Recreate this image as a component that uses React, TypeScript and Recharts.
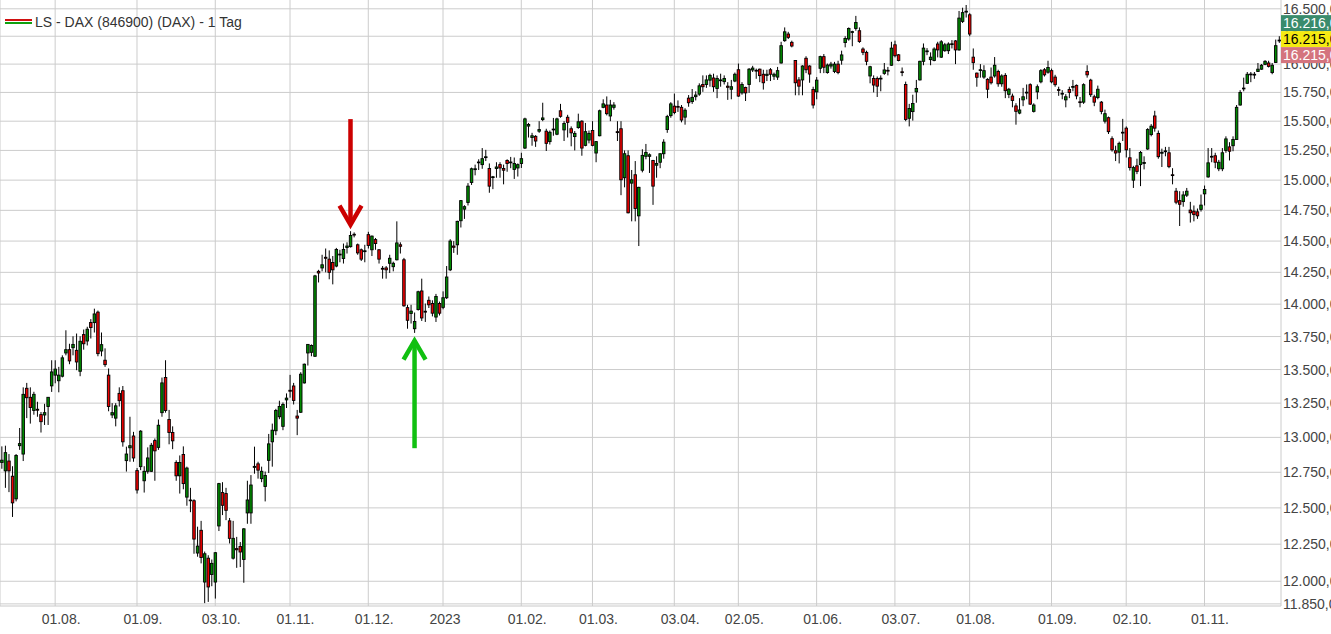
import React from 'react';
import { ComposedChart, Bar, XAxis, YAxis, CartesianGrid, ReferenceLine } from 'recharts';

type OHLC = [number, number, number, number];

// Daily candles [open, high, low, close], one array per month (first row = first trading day)
const jul22: OHLC[] = [
  [12820,12935,12775,12836],[12760,12940,12640,12890],[12830,12880,12610,12760],[12722,12793,12437,12535],
  [12563,12880,12545,12870],[12940,13068,12910,12955],[12880,13367,12830,13315],[13360,13400,13140,13290],
  [13293,13367,13100,13218],[13196,13334,13165,13315],[13205,13260,13150,13198],[13166,13185,13035,13114],
  [13163,13245,13090,13180],[13225,13295,13090,13293],[13378,13570,13333,13482],
];
const aug22: OHLC[] = [
  [13458,13570,13397,13503],[13416,13520,13330,13458],[13450,13607,13441,13588],[13625,13798,13607,13650],
  [13650,13695,13540,13565],[13665,13752,13607,13690],[13645,13773,13495,13557],[13487,13752,13450,13714],
  [13765,13804,13650,13695],[13716,13825,13682,13806],[13858,13884,13735,13819],[13857,13965,13781,13924],
  [13938,13950,13600,13620],[13640,13781,13600,13688],[13570,13660,13520,13537],[13458,13508,13190,13225],
  [13163,13250,13140,13180],[13140,13250,13080,13230],[13322,13367,13225,13268],[13342,13377,12933,12968],
  [12833,12933,12755,12880],[12925,13150,12825,12940],[13010,13040,12825,12852],
];
const sep22: OHLC[] = [
  [12762,12780,12600,12625],[12790,13052,12765,13045],[12690,12793,12607,12757],[12757,12928,12740,12852],
  [12757,12960,12752,12943],[12977,12992,12690,12903],[12928,13130,12910,13088],[13180,13440,13150,13400],
  [13440,13570,13180,13196],[13130,13200,12950,13035],[13035,13080,12915,12975],[12820,12835,12690,12725],
  [12725,12870,12600,12820],[12877,12935,12630,12670],[12575,12790,12515,12780],[12555,12640,12470,12550],
  [12550,12560,12185,12285],[12190,12370,12165,12237],[12345,12410,12120,12160],[11995,12200,11855,12185],
  [12155,12175,11863,11962],[12045,12146,11967,12120],
];
const oct22: OHLC[] = [
  [11995,12196,11885,12192],[12375,12675,12340,12670],[12607,12680,12450,12518],[12600,12640,12415,12483],
  [12410,12430,12255,12290],[12155,12410,12146,12290],[12220,12300,12090,12212],[12235,12265,12095,12197],
  [12146,12360,11990,12355],[12465,12690,12390,12555],[12465,12730,12390,12660],[12785,12933,12740,12792],
  [12810,12825,12705,12765],[12705,12790,12680,12757],[12650,12755,12545,12727],[12835,13025,12745,12953],
  [12968,13100,12790,13052],[13048,13208,13016,13196],[13150,13268,13132,13225],[13080,13255,13052,13240],
  [13274,13322,13214,13287],
];
const nov22: OHLC[] = [
  [13345,13460,13290,13338],[13377,13400,13240,13270],[13155,13200,13016,13140],[13183,13480,13178,13465],
  [13400,13545,13395,13540],[13625,13692,13530,13690],[13630,13690,13600,13682],[13600,14230,13595,14222],
  [14258,14270,14170,14245],[14285,14390,14258,14310],[14370,14440,14250,14362],[14355,14425,14195,14250],
  [14328,14380,14155,14270],[14300,14445,14290,14432],[14395,14430,14330,14390],[14360,14480,14320,14432],
  [14448,14490,14400,14460],[14455,14580,14448,14545],[14555,14570,14530,14550],[14470,14480,14390,14405],
  [14430,14440,14340,14355],[14415,14470,14330,14422],
];
const dec22: OHLC[] = [
  [14552,14575,14440,14465],[14430,14545,14380,14540],[14512,14525,14430,14480],[14430,14435,14320,14355],
  [14282,14300,14200,14275],[14285,14300,14200,14270],[14322,14390,14245,14362],[14295,14335,14258,14322],
  [14350,14660,14345,14485],[14470,14490,14400,14458],[14350,14365,13980,13987],[13973,13995,13810,13875],
  [13928,13995,13850,13946],[13810,13935,13778,13866],[13958,14105,13950,14097],[14103,14200,13870,13893],
  [13945,14005,13862,13938],[14030,14060,13970,13995],[14005,14030,13905,13930],[13900,14080,13862,14060],
  [14005,14020,13912,13930],
];
const jan23: OHLC[] = [
  [13975,14100,13960,14050],[14050,14300,14040,14213],[14270,14515,14260,14500],[14460,14500,14405,14450],
  [14470,14665,14390,14660],[14665,14835,14610,14830],[14760,14792,14680,14780],[14815,14975,14790,14950],
  [14980,15105,14960,15095],[15088,15130,15040,15095],[15148,15175,15085,15152],[15130,15270,15095,15180],
  [15192,15255,15160,15196],[15097,15140,14895,14950],[15022,15035,14925,15028],[15097,15150,15020,15110],
  [15130,15150,15020,15102],[15097,15130,14965,15083],[15165,15175,15070,15140],[15148,15195,15100,15152],
  [15090,15190,15010,15140],[15102,15140,15030,15130],
];
const feb23: OHLC[] = [
  [15140,15230,15102,15180],[15270,15530,15262,15520],[15458,15485,15360,15472],[15360,15400,15290,15375],
  [15370,15380,15280,15330],[15414,15500,15400,15428],[15514,15660,15500,15528],[15414,15435,15245,15310],
  [15325,15420,15300,15405],[15432,15528,15375,15425],[15388,15530,15380,15520],[15590,15650,15530,15542],
  [15425,15500,15330,15480],[15534,15555,15360,15490],[15435,15455,15285,15400],[15368,15415,15250,15395],
  [15445,15565,15435,15495],[15500,15508,15205,15270],[15293,15485,15285,15410],[15338,15420,15310,15395],
];
const mar23: OHLC[] = [
  [15420,15500,15285,15293],[15228,15330,15150,15325],[15375,15600,15370,15590],[15620,15690,15612,15650],
  [15640,15715,15550,15565],[15545,15685,15500,15640],[15620,15665,15600,15640],[15410,15500,15330,15402],
  [15435,15500,14875,15003],[15020,15250,14940,15222],[15205,15250,14725,14730],[14975,15085,14660,15003],
  [15045,15160,14660,14765],[14705,14945,14460,14940],[15083,15260,15065,15208],[15200,15305,15175,15233],
  [15200,15225,15060,15213],[15165,15170,14795,14950],[15125,15200,15020,15140],[15150,15225,15100,15222],
  [15222,15345,15180,15320],[15428,15555,15400,15540],[15548,15665,15530,15650],
];
const apr23: OHLC[] = [
  [15630,15740,15560,15575],[15628,15680,15580,15622],[15620,15640,15490,15510],[15535,15612,15470,15595],
  [15700,15727,15625,15660],[15670,15780,15650,15707],[15713,15760,15680,15727],[15735,15830,15720,15808],
  [15820,15900,15755,15800],[15820,15900,15790,15860],[15858,15915,15800,15900],[15877,15915,15755,15800],
  [15785,15900,15700,15873],[15855,15915,15800,15860],[15845,15900,15820,15873],[15805,15840,15685,15795],
  [15778,15860,15690,15800],[15850,15925,15840,15910],
];
const may23: OHLC[] = [
  [15950,16005,15712,15718],[15746,15840,15730,15820],[15794,15800,15675,15746],[15820,15965,15746,15955],
  [15948,15985,15930,15965],[15945,15960,15870,15940],[15955,15960,15840,15898],[15910,15950,15775,15835],
  [15900,15950,15850,15910],[15950,15965,15850,15910],[15893,15925,15860,15910],[15885,15975,15860,15942],
  [16010,16200,16005,16165],[16210,16330,16200,16290],[16270,16290,16225,16240],[16195,16210,16150,16162],
  [16032,16035,15725,15835],[15860,15885,15725,15805],[15860,15990,15725,15983],[16052,16070,15920,15950],
  [15983,15990,15835,15912],[15776,15800,15610,15640],
];
const jun23: OHLC[] = [
  [15755,15885,15690,15858],[15963,16075,15920,16067],[16067,16090,15920,15972],[15925,16005,15915,15992],
  [15983,16020,15960,16000],[15935,16020,15920,16000],[16000,16030,15910,15925],[16035,16120,15995,16082],
  [16193,16250,16150,16230],[16225,16330,16210,16320],[16285,16300,16160,16292],[16320,16435,16300,16375],
  [16300,16330,16190,16203],[16135,16150,16080,16105],[16105,16120,15990,16025],[15895,15985,15830,15977],
  [15873,15900,15750,15815],[15873,15890,15710,15805],[15868,15900,15760,15875],[15918,16010,15905,15948],
  [15945,15975,15900,15940],[15990,16200,15985,16143],
];
const jul23: OHLC[] = [
  [16173,16210,16060,16075],[16083,16090,16025,16032],[15932,15970,15893,15926],[15820,15845,15500,15515],
  [15525,15650,15455,15610],[15583,15730,15505,15653],[15755,15860,15660,15785],[15860,16030,15855,16025],
  [16025,16185,15990,16143],[16112,16143,16080,16118],[16040,16105,15990,16062],[16032,16150,16025,16135],
  [16180,16200,16060,16127],[16062,16215,16055,16200],[16120,16190,16110,16173],[16120,16195,16090,16180],
  [16178,16215,16140,16182],[16208,16215,16000,16127],[16127,16480,16120,16415],[16385,16510,16370,16465],
  [16470,16535,16420,16478],
];
const aug23: OHLC[] = [
  [16445,16460,16250,16270],[16062,16140,15950,16013],[15920,15925,15800,15883],[15944,16000,15880,15950],
  [15885,15990,15870,15942],[15865,15875,15700,15778],[15885,15970,15820,15835],[15895,16063,15880,15990],
  [15935,15950,15800,15826],[15826,15910,15800,15895],[15900,15920,15700,15765],[15733,15790,15700,15778],
  [15718,15740,15620,15680],[15632,15656,15470,15585],[15570,15700,15560,15597],[15685,15790,15630,15712],
  [15745,15820,15690,15752],[15818,15830,15640,15648],[15585,15655,15575,15640],[15755,15820,15690,15800],
  [15843,15955,15830,15942],[15950,15965,15890,15905],[15928,16030,15915,15970],
];
const sep23: OHLC[] = [
  [15942,15960,15830,15843],[15885,15905,15800,15818],[15775,15800,15720,15768],[15736,15770,15690,15742],
  [15685,15735,15620,15712],[15776,15800,15700,15750],[15795,15860,15760,15802],[15812,15820,15690,15720],
  [15668,15710,15620,15662],[15665,15830,15650,15818],[15935,15990,15880,15905],[15858,15870,15710,15730],
  [15712,15730,15630,15665],[15705,15810,15690,15778],[15665,15675,15560,15585],[15500,15600,15480,15565],
  [15530,15540,15390,15410],[15350,15370,15240,15255],[15247,15290,15160,15228],[15235,15325,15140,15310],
  [15405,15520,15330,15398],
];
const oct23: OHLC[] = [
  [15440,15455,15190,15255],[15188,15270,15080,15105],[15000,15120,14935,15105],[15120,15180,15050,15073],
  [15130,15245,14950,15233],[15140,15200,15090,15148],[15262,15440,15255,15428],[15385,15475,15370,15457],
  [15545,15590,15410,15440],[15395,15420,15180,15197],[15226,15265,15110,15234],[15240,15280,15200,15246],
  [15230,15280,15100,15113],[15045,15100,14965,15038],[14908,14935,14800,14817],[14830,14908,14622,14800],
  [14822,14908,14780,14877],[14875,14935,14860,14908],[14752,14820,14650,14730],[14743,14790,14660,14715],
  [14738,14765,14680,14705],[14758,14880,14740,14793],
];
const nov23: OHLC[] = [
  [14886,14955,14790,14922],[15027,15270,15020,15145],[15200,15270,15150,15195],[15205,15230,15100,15150],
  [15095,15170,15075,15150],[15095,15270,15075,15230],[15250,15370,15230,15348],[15280,15320,15165,15243],
  [15290,15370,15243,15343],[15343,15640,15340,15620],[15640,15770,15635,15750],[15782,15880,15760,15788],
  [15830,15930,15825,15910],[15906,15930,15840,15912],[15908,15930,15870,15910],[15935,16010,15930,15955],
  [15955,16000,15950,15990],[15998,16035,15990,16025],[16010,16030,15970,15980],[15925,16010,15910,15990],
  [16015,16220,16010,16165],[16212,16250,16190,16215],
];

// Month blocks with the x-axis label of their first trading day
const months: { label: string | null; rows: OHLC[] }[] = [
  { label: null, rows: jul22 },
  { label: '01.08.', rows: aug22 },
  { label: '01.09.', rows: sep22 },
  { label: '03.10.', rows: oct22 },
  { label: '01.11.', rows: nov22 },
  { label: '01.12.', rows: dec22 },
  { label: '2023', rows: jan23 },
  { label: '01.02.', rows: feb23 },
  { label: '01.03.', rows: mar23 },
  { label: '03.04.', rows: apr23 },
  { label: '02.05.', rows: may23 },
  { label: '01.06.', rows: jun23 },
  { label: '03.07.', rows: jul23 },
  { label: '01.08.', rows: aug23 },
  { label: '01.09.', rows: sep23 },
  { label: '02.10.', rows: oct23 },
  { label: '01.11.', rows: nov23 },
];

const yTicks = [11850, 12000, 12250, 12500, 12750, 13000, 13250, 13500, 13750, 14000, 14250, 14500, 14750, 15000, 15250, 15500, 15750, 16000, 16250, 16500];
const yDomain: [number, number] = [11836, 16581];

// Annotation arrows: candle index, tail value, tip value
const arrows = [
  { i: 98, from: 15518, to: 14596, color: '#cc0000' },
  { i: 116, from: 12922, to: 13753, color: '#11c011' },
];

// Quote boxes at the right edge (top to bottom), centred on the last price
const lastPrice = 16215;
const quotes = [
  { value: 16216, bg: '#3a8b6c', fg: '#ffffff' },
  { value: 16215, bg: '#f5eb12', fg: '#000000' },
  { value: 16215, bg: '#d4747e', fg: '#ffffff' },
];

const legendTitle = 'LS - DAX (846900) (DAX) - 1 Tag';

const FONT = '"Liberation Sans", Arial, Helvetica, sans-serif';
const TICK_GAP = 2;

const fmt = (v: number) => {
  const [int, dec] = v.toFixed(2).split('.');
  return int.replace(/\B(?=(\d{3})+(?!\d))/g, '.') + ',' + dec;
};

const data: any[] = [];
const xTicks: number[] = [];
const xLabels: Record<number, string> = {};
months.forEach((m) => {
  m.rows.forEach((r, k) => {
    const i = data.length;
    if (k === 0 && m.label) {
      xTicks.push(i);
      xLabels[i] = m.label;
    }
    data.push({ i, o: r[0], h: r[1], l: r[2], c: r[3], range: [r[2], r[1]] });
  });
});

// the last-price tick is appended last so its boxes are painted over the other labels
const yAxisTicks = [...yTicks, lastPrice];

const Candle = (props: any) => {
  const { x, y, width, height, payload } = props;
  if (!payload || x == null || y == null) return null;
  const { o, h, l, c } = payload;
  const top = Math.min(y, y + height);
  const hgt = Math.abs(height);
  const cx = x + width / 2;
  const lh = Math.log(h);
  const span = lh - Math.log(l);
  const py = (v: number) => (span > 0 ? top + (hgt * (lh - Math.log(v))) / span : top);
  const yo = py(o);
  const yc = py(c);
  const bt = Math.min(yo, yc);
  const bb = Math.max(yo, yc);
  const up = c >= o;
  return (
    <g>
      <line x1={cx} x2={cx} y1={top} y2={top + hgt} stroke="#000" strokeWidth={1} />
      <rect
        x={cx - 1.25}
        y={bt}
        width={2.5}
        height={Math.max(bb - bt, 0.8)}
        fill={up ? '#008a00' : '#ee0000'}
        stroke="#000"
        strokeWidth={0.9}
      />
    </g>
  );
};

const XTick = (p: any) => {
  const label = xLabels[p.payload?.value];
  if (!label) return null;
  return (
    <text x={p.x - 13.5} y={p.y} dy="0.71em" textAnchor="start" fontSize={14} fill="#444" fontFamily={FONT}>
      {label}
    </text>
  );
};

const YTick = (p: any) => {
  const v = p.payload?.value;
  if (v == null || p.y == null) return null;
  if (v === lastPrice) {
    const xr = p.x - TICK_GAP;
    const h = 16;
    const start = p.y - 25;
    return (
      <g>
        {quotes.map((q, k) => {
          const top = start + k * h;
          return (
            <g key={k}>
              <rect x={xr} y={top} width={60} height={h} fill={q.bg} />
              <text x={xr + 2} y={top + h / 2} dy="0.355em" fontSize={14} fill={q.fg} fontFamily={FONT}>
                {fmt(q.value)}
              </text>
            </g>
          );
        })}
      </g>
    );
  }
  return (
    <text x={p.x} y={p.y} dy="0.355em" textAnchor="start" fontSize={14} fill="#444" fontFamily={FONT}>
      {fmt(v)}
    </text>
  );
};

const makeArrow = (color: string) => (p: any) => {
  const { x1, y1, x2, y2 } = p;
  if (x1 == null) return null;
  const d = y2 > y1 ? 1 : -1;
  const vy = y2 - d * 4.5;
  return (
    <g>
      <line x1={x1} y1={y1} x2={x2} y2={vy} stroke={color} strokeWidth={4.5} />
      <polyline
        points={`${x2 - 11},${vy - d * 19} ${x2},${vy} ${x2 + 11},${vy - d * 19}`}
        fill="none"
        stroke={color}
        strokeWidth={4.5}
        strokeLinejoin="miter"
      />
    </g>
  );
};

export default function App() {
  return (
    <div style={{ position: 'absolute', left: 0, top: 0, width: 1331, height: 634, overflow: 'hidden', background: '#fff' }}>
      <ComposedChart width={1331} height={634} data={data} margin={{ top: 0, right: 0, bottom: 0, left: 0 }} barCategoryGap="10%">
        <CartesianGrid stroke="#cccccc" horizontalValues={yTicks} />
        <XAxis
          dataKey="i"
          type="category"
          allowDuplicatedCategory={false}
          ticks={xTicks}
          interval={0}
          height={28}
          tickLine={false}
          axisLine={{ stroke: '#c8c8c8' }}
          tick={<XTick />}
        />
        <YAxis
          orientation="right"
          scale="log"
          type="number"
          domain={yDomain}
          allowDataOverflow
          ticks={yAxisTicks}
          interval={0}
          width={50}
          tickLine={false}
          axisLine={false}
          tickSize={1}
          tickMargin={TICK_GAP - 1}
          tick={<YTick />}
        />
        <Bar dataKey="range" isAnimationActive={false} shape={<Candle />} />
        {arrows.map((a) => (
          <ReferenceLine
            key={a.i}
            segment={[{ x: a.i, y: a.from }, { x: a.i, y: a.to }]}
            ifOverflow="visible"
            shape={makeArrow(a.color)}
          />
        ))}
      </ComposedChart>
      <svg style={{ position: 'absolute', left: 5, top: 18 }} width={27} height={8}>
        <line x1={0} x2={27} y1={2} y2={2} stroke="#d01010" strokeWidth={2} />
        <line x1={0} x2={27} y1={5} y2={5} stroke="#10a010" strokeWidth={2} />
      </svg>
      <div
        style={{
          position: 'absolute',
          left: 35,
          top: 14,
          fontFamily: FONT,
          fontSize: 14,
          lineHeight: '16px',
          color: '#333',
          whiteSpace: 'nowrap',
        }}
      >
        {legendTitle}
      </div>
    </div>
  );
}
